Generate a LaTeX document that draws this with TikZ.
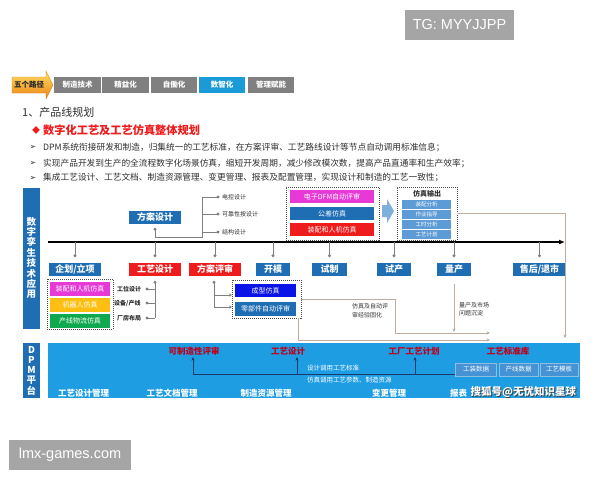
\documentclass[tikz,border=0pt]{standalone}
\usepackage{fontspec}
\setmainfont{Noto Sans CJK SC}
\newfontfamily\dejavu{DejaVu Sans}
\newfontfamily\libsans{Liberation Sans}
\usetikzlibrary{arrows.meta}
\definecolor{tabgray}{HTML}{808080}
\definecolor{tabblue}{HTML}{1A9AD6}
\definecolor{dblue}{HTML}{1F6EB4}
\definecolor{bred}{HTML}{EE1C1C}
\definecolor{bmag}{HTML}{E639D6}
\definecolor{byel}{HTML}{FDBF12}
\definecolor{bgreen}{HTML}{10A84E}
\definecolor{bbright}{HTML}{0A14E6}
\definecolor{outblue}{HTML}{5D9BD6}
\definecolor{dpmblue}{HTML}{1E9DE3}
\definecolor{dpmbox}{HTML}{4592D4}
\definecolor{dred}{HTML}{C0001A}
\definecolor{tanc}{HTML}{BFAE9E}
\definecolor{stemgray}{HTML}{7F7F7F}
\definecolor{wmgray}{HTML}{A5A5A5}
\definecolor{txt}{HTML}{303030}
\definecolor{navy}{HTML}{1A3A6A}
\definecolor{arrowlb}{HTML}{7FB0DC}
\newcommand{\fs}[1]{\fontsize{#1}{#1}\selectfont}
\begin{document}
\begin{tikzpicture}[x=1pt,y=-1pt,
  box/.style={rectangle, inner sep=0pt, text=white, font=\bfseries\fs{9}, minimum height=13pt},
  sbox/.style={rectangle, inner sep=0pt, text=white, font=\fs{7}, minimum height=13pt},
  tab/.style={rectangle, fill=tabgray, inner sep=0pt, minimum height=16pt, text=white, font=\bfseries\fs{7.5}},
  grp/.style={draw=black!70, dash pattern=on 1pt off 1pt, line width=0.7pt},
  stem/.style={draw=stemgray, line width=0.8pt},
  tanl/.style={draw=tanc, line width=0.7pt},
  tana/.style={draw=tanc, line width=0.7pt, -{Stealth[length=3.5pt,width=3pt,fill=black!60]}},
  lab/.style={inner sep=0pt, text=txt, font=\fs{6}},
  vlab/.style={rectangle, fill=dblue, inner sep=0pt, minimum width=17pt, text=white, font=\bfseries\fs{9.5}, align=center}
]
\useasboundingbox (0,0) rectangle (600,480);
\fill[white] (0,0) rectangle (600,480);

% watermarks boxes
\node[fill=wmgray, minimum width=109pt, minimum height=30pt, inner sep=0pt, text=white, font=\libsans\fs{14.5}] (tg) at (459.5,25) {TG: MYYJJPP};
\node[fill=wmgray, minimum width=122pt, minimum height=30pt, inner sep=0pt, text=white, font=\libsans\fs{14.5}] (lmx) at (70,455) {lmx-games.com};

% top bar
\shade[top color=yellow!60!orange!60, bottom color=orange!70!brown, draw=orange!60!brown, line width=0.3pt]
  (12,77) -- (46,77) -- (46,71) -- (53,85) -- (46,99) -- (46,93) -- (12,93) -- cycle;
\node[inner sep=0pt, font=\bfseries\fs{7.5}, text=black!85] (wg) at (29,85) {五个路径};
\node[tab, minimum width=47pt] (t1) at (77.5,85) {制造技术};
\node[tab, minimum width=47pt] (t2) at (125.5,85) {精益化};
\node[tab, minimum width=46pt] (t3) at (174,85) {自働化};
\node[tab, minimum width=46pt, fill=tabblue] (t4) at (222,85) {数智化};
\node[tab, minimum width=46pt] (t5) at (271,85) {管理赋能};

% titles
\node[anchor=west, inner sep=0pt, text=txt, font=\fs{11}] (h1) at (22,112) {1、产品线规划};
\node[anchor=west, inner sep=0pt, text=bred, font=\fs{8}] (dm) at (32,130) {◆};
\node[anchor=west, inner sep=0pt, text=bred, font=\bfseries\fs{11.2}] (h2) at (43,130) {数字化工艺及工艺仿真整体规划};
\foreach \yy/\tt [count=\i] in {147/{DPM系统衔接研发和制造，归集统一的工艺标准，在方案评审、工艺路线设计等节点自动调用标准信息；},
  163/{实现产品开发到生产的全流程数字化场景仿真，缩短开发周期，减少修改模次数，提高产品直通率和生产效率；},
  178/{集成工艺设计、工艺文档、制造资源管理、变更管理、报表及配置管理，实现设计和制造的工艺一致性；}}{
  \node[anchor=west, inner sep=0pt, text=txt, font=\dejavu\fs{8}] (ba\i) at (29.5,\yy) {➢};
  \node[anchor=west, inner sep=0pt, text=txt, font=\fs{8.7}] (bt\i) at (43,\yy) {\tt};
}

% left vertical labels
\node[vlab, minimum height=141pt, font=\bfseries\fontsize{9.5}{10.4}\selectfont] (vl1) at (31.5,258) {数\\字\\孪\\生\\技\\术\\应\\用};
\node[vlab, minimum height=55pt, font=\bfseries\fontsize{9.5}{10.25}\selectfont] (vl2) at (31.5,370.5) {D\\P\\M\\平\\台};

% DPM area
\node[rectangle, fill=dpmblue, inner sep=0pt, minimum width=532pt, minimum height=55pt] (dpm) at (314,370.5) {};

% timeline
\coordinate (tl0) at (48,242);
\coordinate (tl1) at (565,242);
\draw[line width=1.6pt, -{Latex[length=6pt,width=5pt]}] (tl0) -- (tl1);

% timeline nodes
\node[box, fill=dblue, minimum width=52pt] (fasj) at (155,217.5) {方案设计};
\node[box, fill=dblue, minimum width=52pt] (qh) at (75,269.5) {企划/立项};
\node[box, fill=bred, minimum width=52pt] (gy) at (155,269.5) {工艺设计};
\node[box, fill=bred, minimum width=52pt] (fa) at (215,269.5) {方案评审};
\node[box, fill=dblue, minimum width=34pt] (km) at (273,269.5) {开模};
\node[box, fill=dblue, minimum width=35pt] (sz) at (329.5,269.5) {试制};
\node[box, fill=dblue, minimum width=34pt] (sc) at (394,269.5) {试产};
\node[box, fill=dblue, minimum width=34pt] (lc) at (454,269.5) {量产};
\node[box, fill=dblue, minimum width=53pt] (sh) at (539.5,269.5) {售后/退市};

\foreach \n in {qh,gy,fa,km,sz,sc,lc,sh}{
  \path (\n.north) ++(0,-7) coordinate (\n-d);
  \draw[stem] (\n-d) -- (\n.north |- tl0);
  \fill[stemgray] (\n-d) circle (1.6pt);
}

% 方案设计 branches
\path (fasj.south) ++(0,5) coordinate (fs-d);
\coordinate (fs-c) at (155,237);
\coordinate (br0) at (202,237);
\coordinate (b1) at (218,197);
\coordinate (b2) at (218,214);
\coordinate (b3) at (218,232);
\draw[stem] (fs-d) -- (fs-c) -- (br0) -- (br0 |- b1) -- (b1);
\draw[stem] (br0 |- b2) -- (b2);
\draw[stem] (br0 |- b3) -- (b3);
\foreach \c in {fs-d,b1,b2,b3} \fill[stemgray] (\c) circle (1.6pt);
\node[lab, anchor=west] (l1) at (222,197) {电控设计};
\node[lab, anchor=west] (l2) at (222,214) {可靠性按设计};
\node[lab, anchor=west] (l3) at (222,232) {结构设计};

% upper simulation group
\node[grp, rectangle, minimum width=93pt, minimum height=53pt, inner sep=0pt] (ga) at (332.5,213.5) {};
\node[sbox, fill=bmag, minimum width=84pt] (a1) at (332,196.5) {电子DFM自动评审};
\node[sbox, fill=dblue, minimum width=84pt] (a2) at (332,213.5) {公差仿真};
\node[sbox, fill=bred, minimum width=84pt] (a3) at (332,229.5) {装配和人机仿真};
\fill[arrowlb] (382,205) -- (387,205) -- (387,199) -- (394,211) -- (387,223) -- (387,217) -- (382,217) -- cycle;

% simulation output group
\node[grp, rectangle, minimum width=60pt, minimum height=53pt, inner sep=0pt] (go) at (427,213.5) {};
\node[inner sep=0pt, font=\bfseries\fs{7}, text=txt] (got) at (427,194) {仿真输出};
\foreach \yy/\tt [count=\i] in {204/装配分析,214/作业指导,224.5/工时分析,234/工艺计划}
  \node[rectangle, fill=outblue, inner sep=0pt, minimum width=49pt, minimum height=9pt, text=white, font=\fs{5.5}] (o\i) at (426.5,\yy) {\tt};

\coordinate (go-c) at (565,213);
\coordinate (go-e) at (565,338);
\draw[tana] (go.east |- go-c) -- (go-c) -- (go-e);

% lower left group
\node[grp, rectangle, minimum width=66pt, minimum height=50pt, inner sep=0pt] (gl) at (80,304) {};
\node[sbox, fill=bmag, minimum width=60pt, minimum height=14pt] (c1) at (80,289) {装配和人机仿真};
\node[sbox, fill=byel, minimum width=60pt, minimum height=14pt] (c2) at (80,305) {机器人仿真};
\node[sbox, fill=bgreen, minimum width=60pt, minimum height=14pt] (c3) at (80,321) {产线物流仿真};
\node[lab, anchor=west, font=\bfseries\fs{6}] (m1) at (117,289) {工位设计};
\node[lab, anchor=west, font=\bfseries\fs{6}] (m2) at (114,303) {设备/产线};
\node[lab, anchor=west, font=\bfseries\fs{6}] (m3) at (117,318) {厂房布局};
\path (gy.south) ++(0,6) coordinate (gy-d);
\coordinate (gy-e) at (155,318);
\draw[stem] (gy-d) -- (gy-e);
\fill[stemgray] (gy-d) circle (1.6pt);
\foreach \yy in {289,303,318}{
  \draw[stem] (147,\yy) -- (155,\yy);
  \fill[stemgray] (147,\yy) circle (1.6pt);
}

% 方案评审 branches
\path (fa.south) ++(-1,6) coordinate (fa-d);
\coordinate (fa-e) at (214,307);
\coordinate (fa-m) at (214,295);
\coordinate (g2a) at (232,295);
\coordinate (g2b) at (232,307);
\draw[stem] (fa-d) -- (fa-e);
\fill[stemgray] (fa-d) circle (1.6pt);
\draw[stem, -{Stealth[length=3pt,width=3pt]}] (fa-m) -- (g2a);
\draw[stem, -{Stealth[length=3pt,width=3pt]}] (fa-e) -- (g2b);

\node[grp, rectangle, minimum width=69pt, minimum height=38pt, inner sep=0pt] (g2) at (266.5,299) {};
\node[sbox, fill=bbright, minimum width=61pt, minimum height=13pt] (d1) at (265.5,290.5) {成型仿真};
\node[sbox, fill=dblue, minimum width=61pt, minimum height=14pt] (d2) at (265.5,308.5) {零部件自动评审};

% tan flow lines to DPM
\coordinate (p1) at (395,299);
\coordinate (p2) at (395,333);
\coordinate (p3) at (490,333);
\draw[tana] (g2.east |- p1) -- (p1) -- (p2) -- (p3);
\coordinate (q1) at (298,340);
\coordinate (q2) at (490,340);
\draw[tana] (q1 |- g2.south) -- (q1) -- (q2);
\node[lab, anchor=west, align=left, font=\fontsize{6}{9}\selectfont] (t-fz) at (352,311) {仿真及自动评\\审经验固化};
\path (lc.south) ++(0,8) coordinate (lc-s);
\coordinate (lc-e) at (454,332);
\draw[tana] (lc-s) -- (lc-e);
\node[lab, anchor=west, align=left, font=\fontsize{6}{8.5}\selectfont] (t-lc) at (459,309) {量产及市场\\问题沉淀};

% DPM contents
\node[inner sep=0pt, text=dred, font=\bfseries\fs{8.5}] (r1) at (194,351.5) {可制造性评审};
\node[inner sep=0pt, text=dred, font=\bfseries\fs{8.5}] (r2) at (288,351.5) {工艺设计};
\node[inner sep=0pt, text=dred, font=\bfseries\fs{8.5}] (r3) at (414,351.5) {工厂工艺计划};
\node[inner sep=0pt, text=dred, font=\bfseries\fs{8.5}] (r4) at (508,351.5) {工艺标准库};
\coordinate (n0) at (193,374);
\coordinate (n1) at (455,374);
\draw[navy, line width=0.7pt] (n0) -- (n1);
\foreach \xx in {193,297,415}
  \draw[navy, line width=0.7pt, -{Stealth[length=3.5pt,width=3pt]}] (\xx,374) -- (\xx,357);
\node[anchor=west, inner sep=0pt, text=white, font=\fs{6.5}] (s1) at (307,368) {设计调用工艺标准};
\node[anchor=west, inner sep=0pt, text=white, font=\fs{6.5}] (s2) at (307,380.5) {仿真调用工艺参数、制造资源};
\node[rectangle, fill=dpmbox, draw=white!40!dpmbox, inner sep=0pt, minimum width=41pt, minimum height=13pt, text=white, font=\fs{6.5}] (k1) at (476,369.5) {工装数据};
\node[rectangle, fill=dpmbox, draw=white!40!dpmbox, inner sep=0pt, minimum width=39pt, minimum height=13pt, text=white, font=\fs{6.5}] (k2) at (518.5,369.5) {产线数据};
\node[rectangle, fill=dpmbox, draw=white!40!dpmbox, inner sep=0pt, minimum width=38pt, minimum height=13pt, text=white, font=\fs{6.5}] (k3) at (559,369.5) {工艺模板};
\node[inner sep=0pt, text=white, font=\bfseries\fs{8.5}] (u1) at (83.5,393) {工艺设计管理};
\node[inner sep=0pt, text=white, font=\bfseries\fs{8.5}] (u2) at (172,393) {工艺文档管理};
\node[inner sep=0pt, text=white, font=\bfseries\fs{8.5}] (u3) at (266,393) {制造资源管理};
\node[inner sep=0pt, text=white, font=\bfseries\fs{8.5}] (u4) at (389,393) {变更管理};
\node[anchor=west, inner sep=0pt, text=white, font=\bfseries\fs{8.5}] (u5) at (450,393) {报表};

% site watermark
\node[anchor=west, inner sep=0pt, text=black!75, font=\bfseries\fs{10.5}] (wm0) at (471.5,393) {搜狐号@无忧知识星球};
\node[anchor=west, inner sep=0pt, text=white, font=\bfseries\fs{10.5}] (wm) at (470.5,392) {搜狐号@无忧知识星球};
\end{tikzpicture}
\end{document}
